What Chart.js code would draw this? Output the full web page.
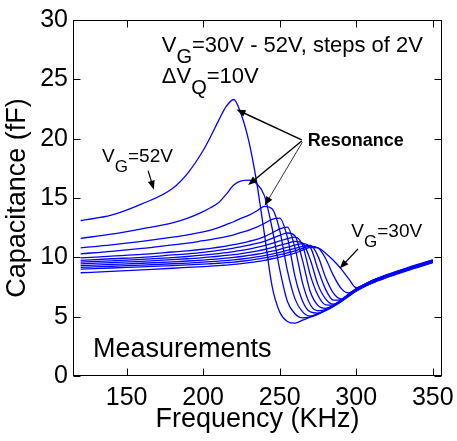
<!DOCTYPE html>
<html lang="en">
  <head>
    <meta charset="UTF-8" />
    <title>Capacitance vs frequency</title>
    <script src="https://cdn.jsdelivr.net/npm/chart.js@4.4.0/dist/chart.umd.min.js"></script>
    <style>
      body { margin: 0; background: #fff; }
    </style>
  </head>
  <body>
    <canvas id="myChart" width="457" height="441"></canvas>

    <script>
      // Values: frequency in kHz, capacitance in fF
      const freqKHz = [120, 140, 160, 180, 190, 200, 205, 210, 215, 220, 225, 230, 235, 240, 245,
                       250, 255, 260, 265, 270, 275, 280, 285, 290, 295, 300, 310, 320, 335, 350];

      const capVG52 = [13.1, 13.55, 14.5, 15.8, 17.1, 19.0, 20.2, 21.5, 22.7, 23.3, 22.0, 19.7, 16.3, 12.0, 7.6,
                       5.4, 4.6, 4.45, 4.7, 4.95, 5.2, 5.5, 5.85, 6.25, 6.7, 7.15, 7.8, 8.3, 8.95, 9.55];
      const capVG50 = [11.6, 11.95, 12.4, 12.9, 13.3, 13.85, 14.2, 14.6, 15.3, 16.1, 16.45, 16.5, 16.2, 15.2, 12.5,
                       9.0, 6.3, 5.25, 4.9, 5.0, 5.23, 5.53, 5.88, 6.28, 6.73, 7.18, 7.83, 8.33, 8.98, 9.58];
      const capVG48 = [10.8, 11.05, 11.35, 11.7, 11.9, 12.15, 12.3, 12.5, 12.75, 13.0, 13.3, 13.55, 13.9, 14.3, 14.1,
                       12.3, 8.9, 6.5, 5.4, 5.05, 5.25, 5.55, 5.9, 6.3, 6.75, 7.2, 7.85, 8.35, 9.0, 9.6];
      const capVG46 = [10.3, 10.5, 10.75, 11.05, 11.2, 11.4, 11.5, 11.62, 11.75, 11.9, 12.1, 12.3, 12.55, 12.85, 13.2,
                       13.3, 11.7, 8.4, 6.3, 5.4, 5.3, 5.57, 5.92, 6.32, 6.77, 7.22, 7.87, 8.37, 9.02, 9.62];
      const capVG44 = [9.95, 10.1, 10.25, 10.45, 10.55, 10.68, 10.76, 10.85, 10.95, 11.07, 11.2, 11.35, 11.52, 11.75, 12.05,
                       12.4, 12.55, 10.8, 7.8, 6.0, 5.5, 5.59, 5.94, 6.34, 6.79, 7.24, 7.89, 8.39, 9.04, 9.64];
      const capVG42 = [9.75, 9.88, 10.0, 10.2, 10.3, 10.42, 10.5, 10.58, 10.67, 10.77, 10.9, 11.03, 11.17, 11.35, 11.6,
                       11.85, 12.05, 11.8, 9.7, 7.1, 5.95, 5.7, 5.96, 6.36, 6.81, 7.26, 7.91, 8.41, 9.06, 9.66];
      const capVG40 = [9.6, 9.7, 9.82, 9.98, 10.07, 10.18, 10.25, 10.32, 10.4, 10.48, 10.58, 10.7, 10.83, 10.98, 11.17,
                       11.38, 11.58, 11.7, 11.0, 8.5, 6.8, 6.0, 5.98, 6.38, 6.83, 7.28, 7.93, 8.43, 9.08, 9.68];
      const capVG38 = [9.45, 9.55, 9.66, 9.8, 9.88, 9.97, 10.03, 10.09, 10.16, 10.23, 10.32, 10.42, 10.53, 10.66, 10.82,
                       11.0, 11.18, 11.35, 11.2, 9.8, 7.7, 6.5, 6.05, 6.4, 6.85, 7.3, 7.95, 8.45, 9.1, 9.7];
      const capVG36 = [9.3, 9.4, 9.5, 9.62, 9.69, 9.77, 9.82, 9.87, 9.93, 9.99, 10.07, 10.16, 10.26, 10.38, 10.52,
                       10.68, 10.85, 11.02, 11.15, 10.85, 9.0, 7.3, 6.4, 6.42, 6.87, 7.32, 7.97, 8.47, 9.12, 9.72];
      const capVG34 = [9.15, 9.25, 9.35, 9.46, 9.52, 9.59, 9.63, 9.68, 9.73, 9.79, 9.86, 9.94, 10.03, 10.14, 10.27,
                       10.42, 10.58, 10.75, 10.93, 11.0, 10.1, 8.3, 7.0, 6.5, 6.9, 7.34, 7.99, 8.49, 9.14, 9.74];
      const capVG32 = [9.0, 9.1, 9.2, 9.3, 9.36, 9.42, 9.46, 9.5, 9.55, 9.6, 9.67, 9.75, 9.84, 9.95, 10.08,
                       10.22, 10.38, 10.55, 10.75, 10.95, 10.8, 9.9, 8.5, 7.4, 7.0, 7.36, 8.01, 8.51, 9.16, 9.76];
      const capVG30 = [8.7, 8.82, 8.95, 9.08, 9.15, 9.22, 9.26, 9.3, 9.35, 9.4, 9.47, 9.55, 9.64, 9.75, 9.88,
                       10.02, 10.18, 10.36, 10.6, 10.85, 10.8, 10.35, 9.75, 9.05, 8.2, 7.45, 8.03, 8.54, 9.19, 9.79];

      const gateVolts = [52, 50, 48, 46, 44, 42, 40, 38, 36, 34, 32, 30];
      const curves = [capVG52, capVG50, capVG48, capVG46, capVG44, capVG42,
                      capVG40, capVG38, capVG36, capVG34, capVG32, capVG30];

      const xTicks = [150, 200, 250, 300, 350];
      const yTicks = [0, 5, 10, 15, 20, 25, 30];

      const FONT = '"Liberation Sans", Arial, Helvetica, sans-serif';

      // text and arrows placed in data coordinates (kHz, fF)
      const notes = [
        { at: [173, 27.3], size: 22, parts: [['V'], ['G', 1], ['=30V - 52V, steps of 2V']] },
        { at: [173, 24.7], size: 22, parts: [['\u0394V'], ['Q', 1], ['=10V']] },
        { at: [134, 18.0], size: 19, parts: [['V'], ['G', 1], ['=52V']] },
        { at: [296.8, 11.7], size: 19, parts: [['V'], ['G', 1], ['=30V']] },
        { at: [268.3, 19.4], size: 18, bold: true, parts: [['Resonance']] },
        { at: [128, 1.57], size: 27, parts: [['Measurements']] }
      ];
      const arrows = [
        { from: [164.1, 17.3], to: [167.8, 15.7], w: 1.2 },
        { from: [301.1, 10.7], to: [289.2, 9.06], w: 1.2 },
        { from: [264.4, 19.9], to: [221.8, 22.45], w: 1.4 },
        { from: [264.4, 19.8], to: [229.4, 16.1], w: 1.4 },
        { from: [264.8, 19.7], to: [240.2, 14.36], w: 0.8 }
      ];

      function drawParts(ctx, parts, x, y, size, bold) {
        parts.forEach(p => {
          const sub = p[1] === 1;
          const s = sub ? Math.round(size * 0.9) : size;
          ctx.font = (bold ? 'bold ' : '') + s + 'px ' + FONT;
          ctx.fillText(p[0], x, y + (sub ? size * 0.5 : 0));
          x += ctx.measureText(p[0]).width;
        });
      }

      function drawArrow(ctx, x1, y1, x2, y2, w) {
        const a = Math.atan2(y2 - y1, x2 - x1);
        const len = 9, half = 3.5;
        ctx.lineWidth = w;
        ctx.beginPath();
        ctx.moveTo(x1, y1);
        ctx.lineTo(x2 - Math.cos(a) * len * 0.7, y2 - Math.sin(a) * len * 0.7);
        ctx.stroke();
        ctx.beginPath();
        ctx.moveTo(x2, y2);
        ctx.lineTo(x2 - len * Math.cos(a) + half * Math.sin(a), y2 - len * Math.sin(a) - half * Math.cos(a));
        ctx.lineTo(x2 - len * Math.cos(a) - half * Math.sin(a), y2 - len * Math.sin(a) + half * Math.cos(a));
        ctx.closePath();
        ctx.fill();
      }

      const boxAndNotes = {
        id: 'boxAndNotes',
        afterDraw(chart) {
          const { ctx, chartArea: area, scales: { x, y } } = chart;
          ctx.save();
          ctx.strokeStyle = '#000';
          ctx.fillStyle = '#000';
          ctx.lineWidth = 1;
          const L = Math.round(area.left) + 0.5, R = Math.round(area.right) - 0.5;
          const T = Math.round(area.top) + 0.5, B = Math.round(area.bottom) - 0.5;
          ctx.strokeRect(L, T, R - L, B - T);

          // inward tick marks on all four sides
          const tick = 7;
          ctx.beginPath();
          xTicks.forEach(v => {
            const px = Math.round(x.getPixelForValue(v)) + 0.5;
            ctx.moveTo(px, B); ctx.lineTo(px, B - tick);
            ctx.moveTo(px, T); ctx.lineTo(px, T + tick);
          });
          yTicks.forEach(v => {
            const py = Math.round(y.getPixelForValue(v)) + 0.5;
            ctx.moveTo(L, py); ctx.lineTo(L + tick, py);
            ctx.moveTo(R, py); ctx.lineTo(R - tick, py);
          });
          ctx.stroke();

          ctx.textBaseline = 'alphabetic';
          ctx.textAlign = 'left';
          notes.forEach(n => {
            drawParts(ctx, n.parts, x.getPixelForValue(n.at[0]), y.getPixelForValue(n.at[1]), n.size, n.bold);
          });
          arrows.forEach(a => {
            drawArrow(ctx,
              x.getPixelForValue(a.from[0]), y.getPixelForValue(a.from[1]),
              x.getPixelForValue(a.to[0]), y.getPixelForValue(a.to[1]), a.w);
          });
          ctx.restore();
        }
      };

      const ctx = document.getElementById('myChart').getContext('2d');
      const myChart = new Chart(ctx, {
        type: 'line',
        data: {
          datasets: curves.map((c, i) => ({
            label: 'VG=' + gateVolts[i] + 'V',
            data: freqKHz.map((f, j) => ({ x: f, y: c[j] })),
            borderColor: '#0000ff',
            borderWidth: 1.3,
            pointRadius: 0,
            fill: false,
            cubicInterpolationMode: 'monotone'
          }))
        },
        options: {
          responsive: false,
          animation: false,
          devicePixelRatio: 1,
          layout: { padding: { top: 14, right: 15, left: 0, bottom: 0 } },
          plugins: {
            legend: { display: false },
            tooltip: { enabled: false }
          },
          scales: {
            x: {
              type: 'linear',
              min: 115,
              max: 356,
              grid: { display: false, drawTicks: false },
              border: { display: false },
              afterBuildTicks: s => { s.ticks = xTicks.map(v => ({ value: v })); },
              afterFit: s => { s.height = 65; },
              ticks: {
                color: '#000', font: { size: 25, family: FONT, lineHeight: 1.5 },
                padding: 3, maxRotation: 0, autoSkip: false
              },
              title: {
                display: true, text: 'Frequency (KHz)', color: '#000',
                font: { size: 27, family: FONT }, padding: { top: 0, bottom: 5 }
              }
            },
            y: {
              type: 'linear',
              min: 0,
              max: 30,
              grid: { display: false, drawTicks: false },
              border: { display: false },
              afterBuildTicks: s => { s.ticks = yTicks.map(v => ({ value: v })); },
              afterFit: s => { s.width = 73; },
              ticks: { color: '#000', font: { size: 25, family: FONT }, padding: 5 },
              title: {
                display: true, text: 'Capacitance (fF)', color: '#000',
                font: { size: 27, family: FONT }, padding: { top: 1, bottom: 0 }
              }
            }
          }
        },
        plugins: [boxAndNotes]
      });
    </script>
  </body>
</html>
